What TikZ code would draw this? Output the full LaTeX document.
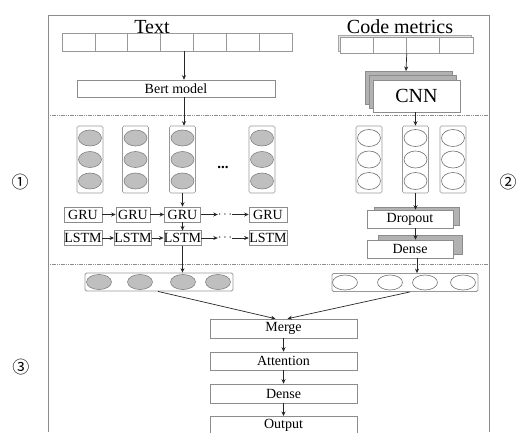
\documentclass[tikz,border=0pt]{standalone}
\usepackage{fontspec}
\setmainfont{Liberation Serif}
\newfontfamily\cjk{Noto Sans CJK SC}
\usetikzlibrary{arrows.meta,shapes.geometric}
\begin{document}
\begin{tikzpicture}[x=1pt,y=-1pt,
  frame/.style={draw=black!45,line width=0.7pt},
  divider/.style={draw=black!45,line width=0.7pt,dash pattern=on 1.2pt off 0.6pt},
  cell/.style={draw=black!40,line width=0.6pt,minimum height=18pt,inner sep=0pt},
  box/.style={draw=black!45,line width=0.6pt,fill=white,inner sep=0pt,font=\fontsize{14}{14}\selectfont},
  shadowbox/.style={draw=black!45,line width=0.6pt,fill=black!30},
  col/.style={draw=black!40,line width=0.6pt,rounded corners=1.5pt,minimum width=26pt,minimum height=67pt,inner sep=0pt},
  gel/.style={ellipse,draw=black!50,line width=0.6pt,fill=black!25,minimum width=23pt,minimum height=16pt,inner sep=0pt},
  wel/.style={ellipse,draw=black!55,line width=0.6pt,fill=white,minimum width=23pt,minimum height=17pt,inner sep=0pt},
  bar/.style={draw=black!40,line width=0.8pt,rounded corners=1.5pt,minimum height=18pt,inner sep=0pt},
  arr/.style={draw=black!85,line width=0.7pt,-{Stealth[length=4.5pt,width=4pt]}},
  big/.style={font=\fontsize{20}{20}\selectfont,inner sep=0pt},
  circ/.style={font=\cjk\fontsize{17}{17}\selectfont,inner sep=0pt}
]
\useasboundingbox (0,0) rectangle (518,432);
\clip (0,0) rectangle (518,432);
% frame
\draw[frame] (48,432) -- (48,15) -- (489,15) -- (489,432);
\draw[divider] (48,115) -- (489,115);
\draw[divider] (48,264) -- (489,264);
% circled numbers
\node[circ] (n1) at (20,182) {①};
\node[circ] (n2) at (508,182) {②};
\node[circ] (n3) at (21,367) {③};
% Text branch
\node[big] (txt) at (152,27) {Text};
\foreach \i in {0,...,6}{
  \node[cell,minimum width=32.86pt] (t\i) at ({62+16.43+32.86*\i},42) {};
}
\node[box,minimum width=198pt,minimum height=17pt] (bert) at (176,88.5) {Bert model};
\foreach \n/\x in {1/90,2/135.5,3/182.5,4/262}{
  \node[col] (c\n) at (\x,159.5) {};
  \node[gel] at (\x,138) {};
  \node[gel] at (\x,159.5) {};
  \node[gel] at (\x,181) {};
}
\node[font=\fontsize{15}{15}\selectfont\bfseries,inner sep=0pt] (cdots) at (223,167) {...};
% GRU / LSTM
\foreach \n/\x/\w in {1/83/38,2/133/34,3/182.5/36,4/268/38}{
  \node[box,minimum width=\w pt,minimum height=15pt] (g\n) at (\x,214.5) {GRU};
  \node[box,minimum width=\w pt,minimum height=14.5pt] (l\n) at (\x,238) {LSTM};
}
\node[inner sep=0pt,font=\fontsize{12}{12}\selectfont] (gd) at (225,214.5) {$\cdots$};
\node[inner sep=0pt,font=\fontsize{12}{12}\selectfont] (ld) at (225,238) {$\cdots$};
\draw[arr] (g1) -- (g2);
\draw[arr] (g2) -- (g3);
\draw[arr] (g3) -- (gd);
\draw[arr] (gd) -- (g4);
\draw[arr] (l1) -- (l2);
\draw[arr] (l2) -- (l3);
\draw[arr] (l3) -- (ld);
\draw[arr] (ld) -- (l4);
% Code metrics branch
\node[big] (cm) at (400,27) {Code metrics};
\draw[draw=black!35,fill=black!10,line width=0.6pt] (338,35) rectangle (471,51);
\foreach \i in {0,...,3}{
  \node[cell,minimum width=33.25pt,minimum height=16pt,fill=white] (m\i) at ({340+16.6+33.25*\i},45) {};
}
\draw[shadowbox] (365,71) rectangle (452,104);
\draw[shadowbox] (369,75) rectangle (456,108);
\node[box,minimum width=87pt,minimum height=32pt,font=\fontsize{20}{20}\selectfont] (cnn) at (416.5,96) {CNN};
\coordinate (cnntop) at (406,71);
\foreach \n/\x in {1/369,2/415.5,3/453}{
  \node[col] (r\n) at (\x,159.5) {};
  \node[wel] at (\x,138) {};
  \node[wel] at (\x,159.5) {};
  \node[wel] at (\x,181) {};
}
\draw[shadowbox] (374,207) rectangle (459,225);
\node[box,minimum width=86pt,minimum height=18pt] (drop) at (410,219) {Dropout};
\draw[shadowbox] (378,235) rectangle (462,254);
\node[box,minimum width=86pt,minimum height=18pt] (dense1) at (410,249) {Dense};
% bottom bars
\node[bar,minimum width=148pt] (lbar) at (159,282) {};
\foreach \x in {99,140,183,218}{ \node[gel,minimum width=25pt,minimum height=15pt] at (\x,282) {}; }
\node[bar,minimum width=146pt] (rbar) at (405,282.5) {};
\foreach \x in {345,390,425,463}{ \node[wel,minimum width=25pt,minimum height=15pt] at (\x,282.5) {}; }
% merge stack
\node[box,minimum width=147pt,minimum height=19pt] (merge) at (283.5,328.5) {Merge};
\node[box,minimum width=147pt,minimum height=18pt] (att) at (283.5,361) {Attention};
\node[box,minimum width=147pt,minimum height=19pt] (dense2) at (283.5,393.5) {Dense};
\node[box,minimum width=147pt,anchor=north,minimum height=0pt,inner ysep=2pt,text height=10pt,text depth=14pt] (out) at (283.5,416) {Output};
% arrows
\draw[arr] (t3.south -| 184,0) -- (bert.north -| 184,0);
\draw[arr] (bert.south -| 184,0) -- (c3.north -| 184,0);
\draw[arr] (c3) -- (g3);
\draw[arr] (g3) -- (l3);
\draw[arr] (l3.south) -- (lbar.north -| l3.south);
\draw[arr] (m1.south east) -- (cnntop);
\draw[arr] (cnn.south -| r2) -- (r2.north);
\draw[arr] (r2.south) -- (drop.north -| r2.south);
\draw[arr] (drop.south -| r2.south) -- (dense1.north -| r2.south);
\draw[arr] (dense1.south -| 417,0) -- (rbar.north -| 417,0);
\draw[arr] (lbar.south -| 158,0) -- ([xshift=-8pt]merge.north);
\draw[arr] (rbar.south -| 410,0) -- ([xshift=4pt]merge.north);
\draw[arr] (merge) -- (att);
\draw[arr] (att) -- (dense2);
\draw[arr] (dense2) -- (out);
\end{tikzpicture}
\end{document}
